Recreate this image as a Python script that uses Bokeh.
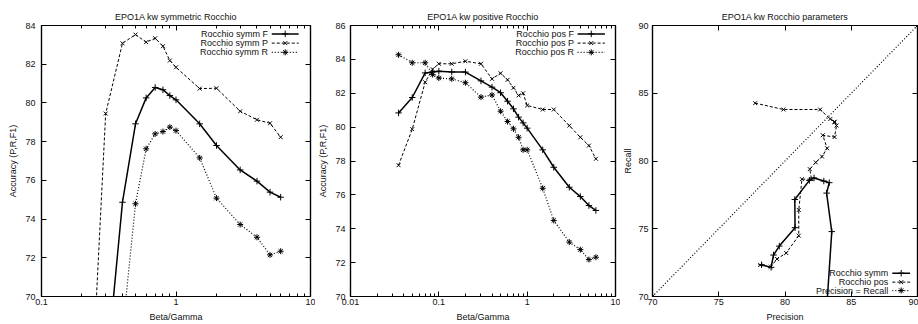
import numpy as np
from bokeh.plotting import figure
from bokeh.layouts import row
from bokeh.models import (FixedTicker, CustomJSTickFormatter, LinearAxis, LogAxis, Range1d,
                          CustomLabelingPolicy)
from bokeh.core.properties import value
from bokeh.embed import file_html
from bokeh.resources import INLINE

nan = float("nan")

# ---------------- data: symmetric Rocchio (panel 1) ----------------
symm_beta_gamma = [0.2, 0.3, 0.4, 0.5, 0.6, 0.7, 0.8, 0.9, 1.0, 1.5, 2.0, 3.0, 4.0, 5.0, 6.0]
symm_F = [nan, 65.7, 74.87, 78.92, 80.26, 80.80, 80.68, 80.38, 80.16, 78.92, 77.80, 76.54, 75.96, 75.39, 75.13]
symm_P = [55.1, 79.45, 83.08, 83.53, 83.14, 83.34, 82.93, 82.19, 81.84, 80.74, 80.76, 79.57, 79.13, 78.95, 78.23]
symm_R = [nan, 56.0, 68.16, 74.79, 77.63, 78.40, 78.52, 78.75, 78.57, 77.16, 75.08, 73.72, 73.06, 72.15, 72.34]

# ---------------- data: positive Rocchio (panel 2) ----------------
pos_beta_gamma = [0.035, 0.05, 0.07, 0.085, 0.1, 0.14, 0.2, 0.3, 0.4, 0.5, 0.6, 0.7, 0.8, 0.9, 1.0,
                  1.5, 2.0, 3.0, 4.0, 5.0, 6.0]
pos_F = [80.84, 81.75, 83.20, 83.26, 83.30, 83.26, 83.25, 82.73, 82.36, 82.03, 81.53, 81.08, 80.59, 80.25,
         79.94, 78.66, 77.63, 76.45, 75.90, 75.37, 75.08]
pos_P = [77.75, 79.88, 82.65, 83.42, 83.74, 83.74, 83.89, 83.74, 82.85, 83.18, 82.79, 82.32, 81.87, 82.00,
         81.28, 81.04, 81.04, 80.09, 79.40, 78.91, 78.13]
pos_R = [84.27, 83.80, 83.80, 83.10, 82.90, 82.85, 82.62, 81.77, 81.90, 80.94, 80.33, 79.90, 79.40, 78.66,
         78.66, 76.39, 74.49, 73.21, 72.77, 72.18, 72.32]

# ---------------- panel 3 reference line ----------------
diag_precision = [70, 90]
diag_recall = [70, 90]

# ---------------- ticks / labels ----------------
ticks_x1 = [0.1, 1, 10]
minor_x1 = [0.2, 0.3, 0.4, 0.5, 0.6, 0.7, 0.8, 0.9, 2, 3, 4, 5, 6, 7, 8, 9]
ticks_y1 = [70, 72, 74, 76, 78, 80, 82, 84]
ticks_x2 = [0.01, 0.1, 1, 10]
minor_x2 = [0.02, 0.03, 0.04, 0.05, 0.06, 0.07, 0.08, 0.09] + minor_x1
ticks_y2 = [70, 72, 74, 76, 78, 80, 82, 84, 86]
ticks_3 = [70, 75, 80, 85, 90]

labels1 = ["Rocchio symm F", "Rocchio symm P", "Rocchio symm R"]
labels2 = ["Rocchio pos F", "Rocchio pos P", "Rocchio pos R"]
labels3 = ["Rocchio symm", "Rocchio pos", "Precision = Recall"]

FONT = "Liberation Sans"
FS = "9px"
INK = "black"
TXT = "#111111"

STY_F = dict(line_dash="solid", line_width=1.5, marker="cross", size=6.5)
STY_P = dict(line_dash="3 2", line_width=1.0, marker="x", size=5.5)
STY_R = dict(line_dash="1 2", line_width=1.2, marker="asterisk", size=6)

HIDE_LABELS = "for (let i = 0; i < indices.size; i++) { indices.unset(i) } return indices;"


def style_axis(ax, ticks, minor=None, labels=True):
    ax.ticker = FixedTicker(ticks=ticks, minor_ticks=minor or [])
    ax.formatter = CustomJSTickFormatter(code="return tick.toString();")
    ax.major_tick_in = 5
    ax.major_tick_out = 0
    ax.minor_tick_in = 3
    ax.minor_tick_out = 0
    ax.axis_line_color = INK
    ax.axis_line_width = 1.2
    ax.major_tick_line_color = INK
    ax.minor_tick_line_color = INK
    ax.major_label_text_font = FONT
    ax.major_label_text_font_size = FS
    ax.major_label_text_color = TXT
    ax.axis_label_text_font = FONT
    ax.axis_label_text_font_size = FS
    ax.axis_label_text_font_style = "normal"
    ax.axis_label_text_color = TXT
    if not labels:
        ax.major_label_policy = CustomLabelingPolicy(code=HIDE_LABELS)
        ax.major_label_text_font_size = "0px"
        ax.major_label_standoff = 0


def make_fig(title, width, bl, br, xr, yr, xlog, xt, xm, yt, xlabel, ylabel, ys1, ys2):
    p = figure(width=width, height=324, x_axis_type="log" if xlog else "linear",
               x_range=Range1d(*xr), y_range=Range1d(*yr),
               output_backend="svg", toolbar_location=None,
               min_border_left=bl, min_border_right=br, min_border_top=25, min_border_bottom=28,
               x_axis_label=xlabel, y_axis_label=ylabel, title=title)
    p.grid.visible = False
    p.outline_line_color = INK
    p.outline_line_width = 1.2
    p.background_fill_color = "white"
    p.border_fill_color = "white"
    p.title.text_font = FONT
    p.title.text_font_size = FS
    p.title.text_font_style = "normal"
    p.title.text_color = TXT
    p.title.align = "center"
    p.title.standoff = 8
    style_axis(p.xaxis[0], xt, xm)
    p.xaxis[0].major_label_standoff = 2
    p.xaxis[0].axis_label_standoff = 4
    style_axis(p.yaxis[0], yt)
    p.yaxis[0].major_label_standoff = ys1
    p.yaxis[0].axis_label_standoff = ys2
    top = LogAxis() if xlog else LinearAxis()
    style_axis(top, xt, xm, labels=False)
    p.add_layout(top, "above")
    right = LinearAxis()
    style_axis(right, yt, labels=False)
    p.add_layout(right, "right")
    return p


def series(p, x, y, sty):
    p.line(x, y, line_color=INK, line_width=sty["line_width"], line_dash=sty["line_dash"])
    p.scatter(x, y, marker=sty["marker"], size=sty["size"], line_color=INK, fill_color=INK, line_width=1)


def frame_xy(xr, yr, xlog, fx, fy_top):
    if xlog:
        lx0, lx1 = np.log10(xr[0]), np.log10(xr[1])
        x = 10 ** (lx0 + fx * (lx1 - lx0))
    else:
        x = xr[0] + fx * (xr[1] - xr[0])
    y = yr[1] - fy_top * (yr[1] - yr[0])
    return x, y


def key(p, xr, yr, xlog, labels, styles, fx_text, fx0, fx1, fys):
    xt = frame_xy(xr, yr, xlog, fx_text, 0)[0]
    xs = frame_xy(xr, yr, xlog, fx0, 0)[0]
    xe = frame_xy(xr, yr, xlog, fx1, 0)[0]
    xmid = frame_xy(xr, yr, xlog, (fx0 + fx1) / 2, 0)[0]
    ys = [frame_xy(xr, yr, xlog, 0, f)[1] for f in fys]
    p.text(x=[xt] * len(labels), y=ys, text=labels, text_align="right", text_baseline="middle",
           text_font=value(FONT), text_font_size=FS, text_color=TXT)
    for yy, sty in zip(ys, styles):
        p.line([xs, xe], [yy, yy], line_color=INK, line_width=sty["line_width"], line_dash=sty["line_dash"])
        p.scatter([xmid], [yy], marker=sty["marker"], size=sty["size"], line_color=INK, line_width=1)


# ---------------- panel 1 ----------------
xr1, yr1 = (0.1, 10), (70, 84)
p1 = make_fig("EPO1A kw symmetric Rocchio", 315, 41, 5, xr1, yr1, True, ticks_x1, minor_x1, ticks_y1,
              "Beta/Gamma", "Accuracy (P,R,F1)", 6, 4)
x1 = np.array(symm_beta_gamma, dtype=float)
series(p1, x1, np.array(symm_F, dtype=float), STY_F)
series(p1, x1, np.array(symm_P, dtype=float), STY_P)
series(p1, x1, np.array(symm_R, dtype=float), STY_R)
key(p1, xr1, yr1, True, labels1, [STY_F, STY_P, STY_R], 0.842, 0.856, 0.956, [0.031, 0.065, 0.099])

# ---------------- panel 2 ----------------
xr2, yr2 = (0.01, 10), (70, 86)
p2 = make_fig("EPO1A kw positive Rocchio", 305, 30, 5, xr2, yr2, True, ticks_x2, minor_x2, ticks_y2,
              "Beta/Gamma", "Accuracy (P,R,F1)", 5, 4)
x2 = np.array(pos_beta_gamma, dtype=float)
series(p2, x2, np.array(pos_F, dtype=float), STY_F)
series(p2, x2, np.array(pos_P, dtype=float), STY_P)
series(p2, x2, np.array(pos_R, dtype=float), STY_R)
key(p2, xr2, yr2, True, labels2, [STY_F, STY_P, STY_R], 0.843, 0.857, 0.96, [0.031, 0.065, 0.099])

# ---------------- panel 3 ----------------
xr3, yr3 = (70, 90), (70, 90)
p3 = make_fig("EPO1A kw Rocchio parameters", 298, 27, 1, xr3, yr3, False, ticks_3, None, ticks_3,
              "Precision", "Recall", 4, 2)
series(p3, np.array(symm_P, dtype=float), np.array(symm_R, dtype=float), STY_F)
series(p3, np.array(pos_P, dtype=float), np.array(pos_R, dtype=float), STY_P)
series(p3, np.array(diag_precision, dtype=float), np.array(diag_recall, dtype=float), STY_R)
key(p3, xr3, yr3, False, labels3, [STY_F, STY_P, STY_R], 0.89, 0.905, 0.972, [0.914, 0.947, 0.978])

layout = row(p1, p2, p3)
open("out.html", "w").write(file_html(layout, INLINE))
